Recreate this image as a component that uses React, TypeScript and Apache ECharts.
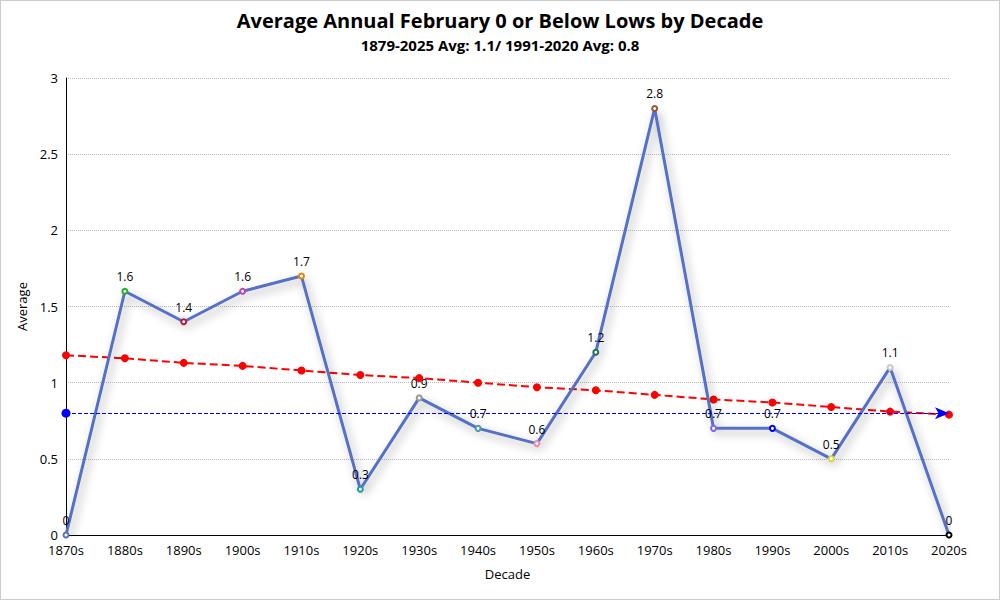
import React, { useEffect, useRef } from "react";
import * as echarts from "echarts";

const decades = ["1870s","1880s","1890s","1900s","1910s","1920s","1930s","1940s","1950s","1960s","1970s","1980s","1990s","2000s","2010s","2020s"];
const averages = [0, 1.6, 1.4, 1.6, 1.7, 0.3, 0.9, 0.7, 0.6, 1.2, 2.8, 0.7, 0.7, 0.5, 1.1, 0];
const pointColors = ["#5470c6","#22b022","#c0143c","#c040c0","#e08a10","#20a0a0","#999999","#4a9ab0","#e890a8","#207060","#a0522d","#7b68ee","#0000ff","#d8d840","#c8c8c8","#000000"];
const trend = [1.18, 1.16, 1.13, 1.11, 1.08, 1.05, 1.03, 1.0, 0.97, 0.95, 0.92, 0.89, 0.87, 0.84, 0.81, 0.79];
const normal = 0.8;
const yTicks = { min: 0, max: 3, interval: 0.5 };

const FONT = "'Open Sans', 'Noto Sans', sans-serif";

export default function App() {
  const ref = useRef<HTMLDivElement>(null);
  useEffect(() => {
    document.body.style.margin = "0";
    const chart = echarts.init(ref.current!, null, { renderer: "svg" });
    chart.setOption({
      animation: false,
      textStyle: { fontFamily: FONT },
      title: {
        text: "Average Annual February 0 or Below Lows by Decade",
        subtext: "1879-2025 Avg: 1.1/ 1991-2020 Avg: 0.8",
        left: "center",
        top: 4,
        itemGap: 7,
        textStyle: { fontSize: 20, fontWeight: "bold", color: "#000", fontFamily: FONT },
        subtextStyle: { fontSize: 15, fontWeight: "bold", color: "#000", fontFamily: FONT },
      },
      grid: { left: 65, right: 50, top: 77, bottom: 64 },
      xAxis: {
        type: "category",
        data: decades,
        boundaryGap: false,
        name: "Decade",
        nameLocation: "middle",
        nameGap: 32,
        nameTextStyle: { color: "#000", fontSize: 13 },
        axisLine: { lineStyle: { color: "#000" } },
        axisTick: { show: false },
        axisLabel: { color: "#000", fontSize: 13, interval: 0 },
      },
      yAxis: {
        type: "value",
        min: yTicks.min,
        max: yTicks.max,
        interval: yTicks.interval,
        name: "Average",
        nameLocation: "middle",
        nameGap: 32,
        nameTextStyle: { color: "#000", fontSize: 13 },
        axisLine: { show: true, lineStyle: { color: "#000" } },
        axisTick: { show: false },
        axisLabel: { color: "#000", fontSize: 13 },
        splitLine: { lineStyle: { type: "dotted", color: "#bbb" } },
      },
      series: [
        {
          type: "line",
          name: "Average",
          data: averages.map((v, i) => ({ value: v, itemStyle: { color: pointColors[i], borderColor: pointColors[i] } })),
          symbol: "emptyCircle",
          symbolSize: 5,
          z: 3,
          lineStyle: { color: "#5470c6", width: 3, shadowColor: "rgba(0,0,0,0.35)", shadowBlur: 10, shadowOffsetX: 3, shadowOffsetY: 4 },
          label: { show: true, position: "top", color: "#000", fontSize: 12 },
          markLine: {
            silent: true,
            symbol: ["circle", "arrow"],
            symbolSize: [9, 14],
            label: { show: false },
            lineStyle: { color: "#0000ff", type: "dashed", width: 1 },
            data: [{ yAxis: normal }],
          },
        },
        {
          type: "line",
          name: "Trend",
          data: trend,
          symbol: "circle",
          symbolSize: 8,
          z: 2,
          itemStyle: { color: "#ff0000" },
          lineStyle: { color: "#ff0000", width: 2, type: "dashed" },
        },
      ],
    });
    return () => chart.dispose();
  }, []);
  return (
    <div
      ref={ref}
      style={{ width: 1000, height: 600, boxSizing: "border-box", border: "1px solid #ccc" }}
    />
  );
}
